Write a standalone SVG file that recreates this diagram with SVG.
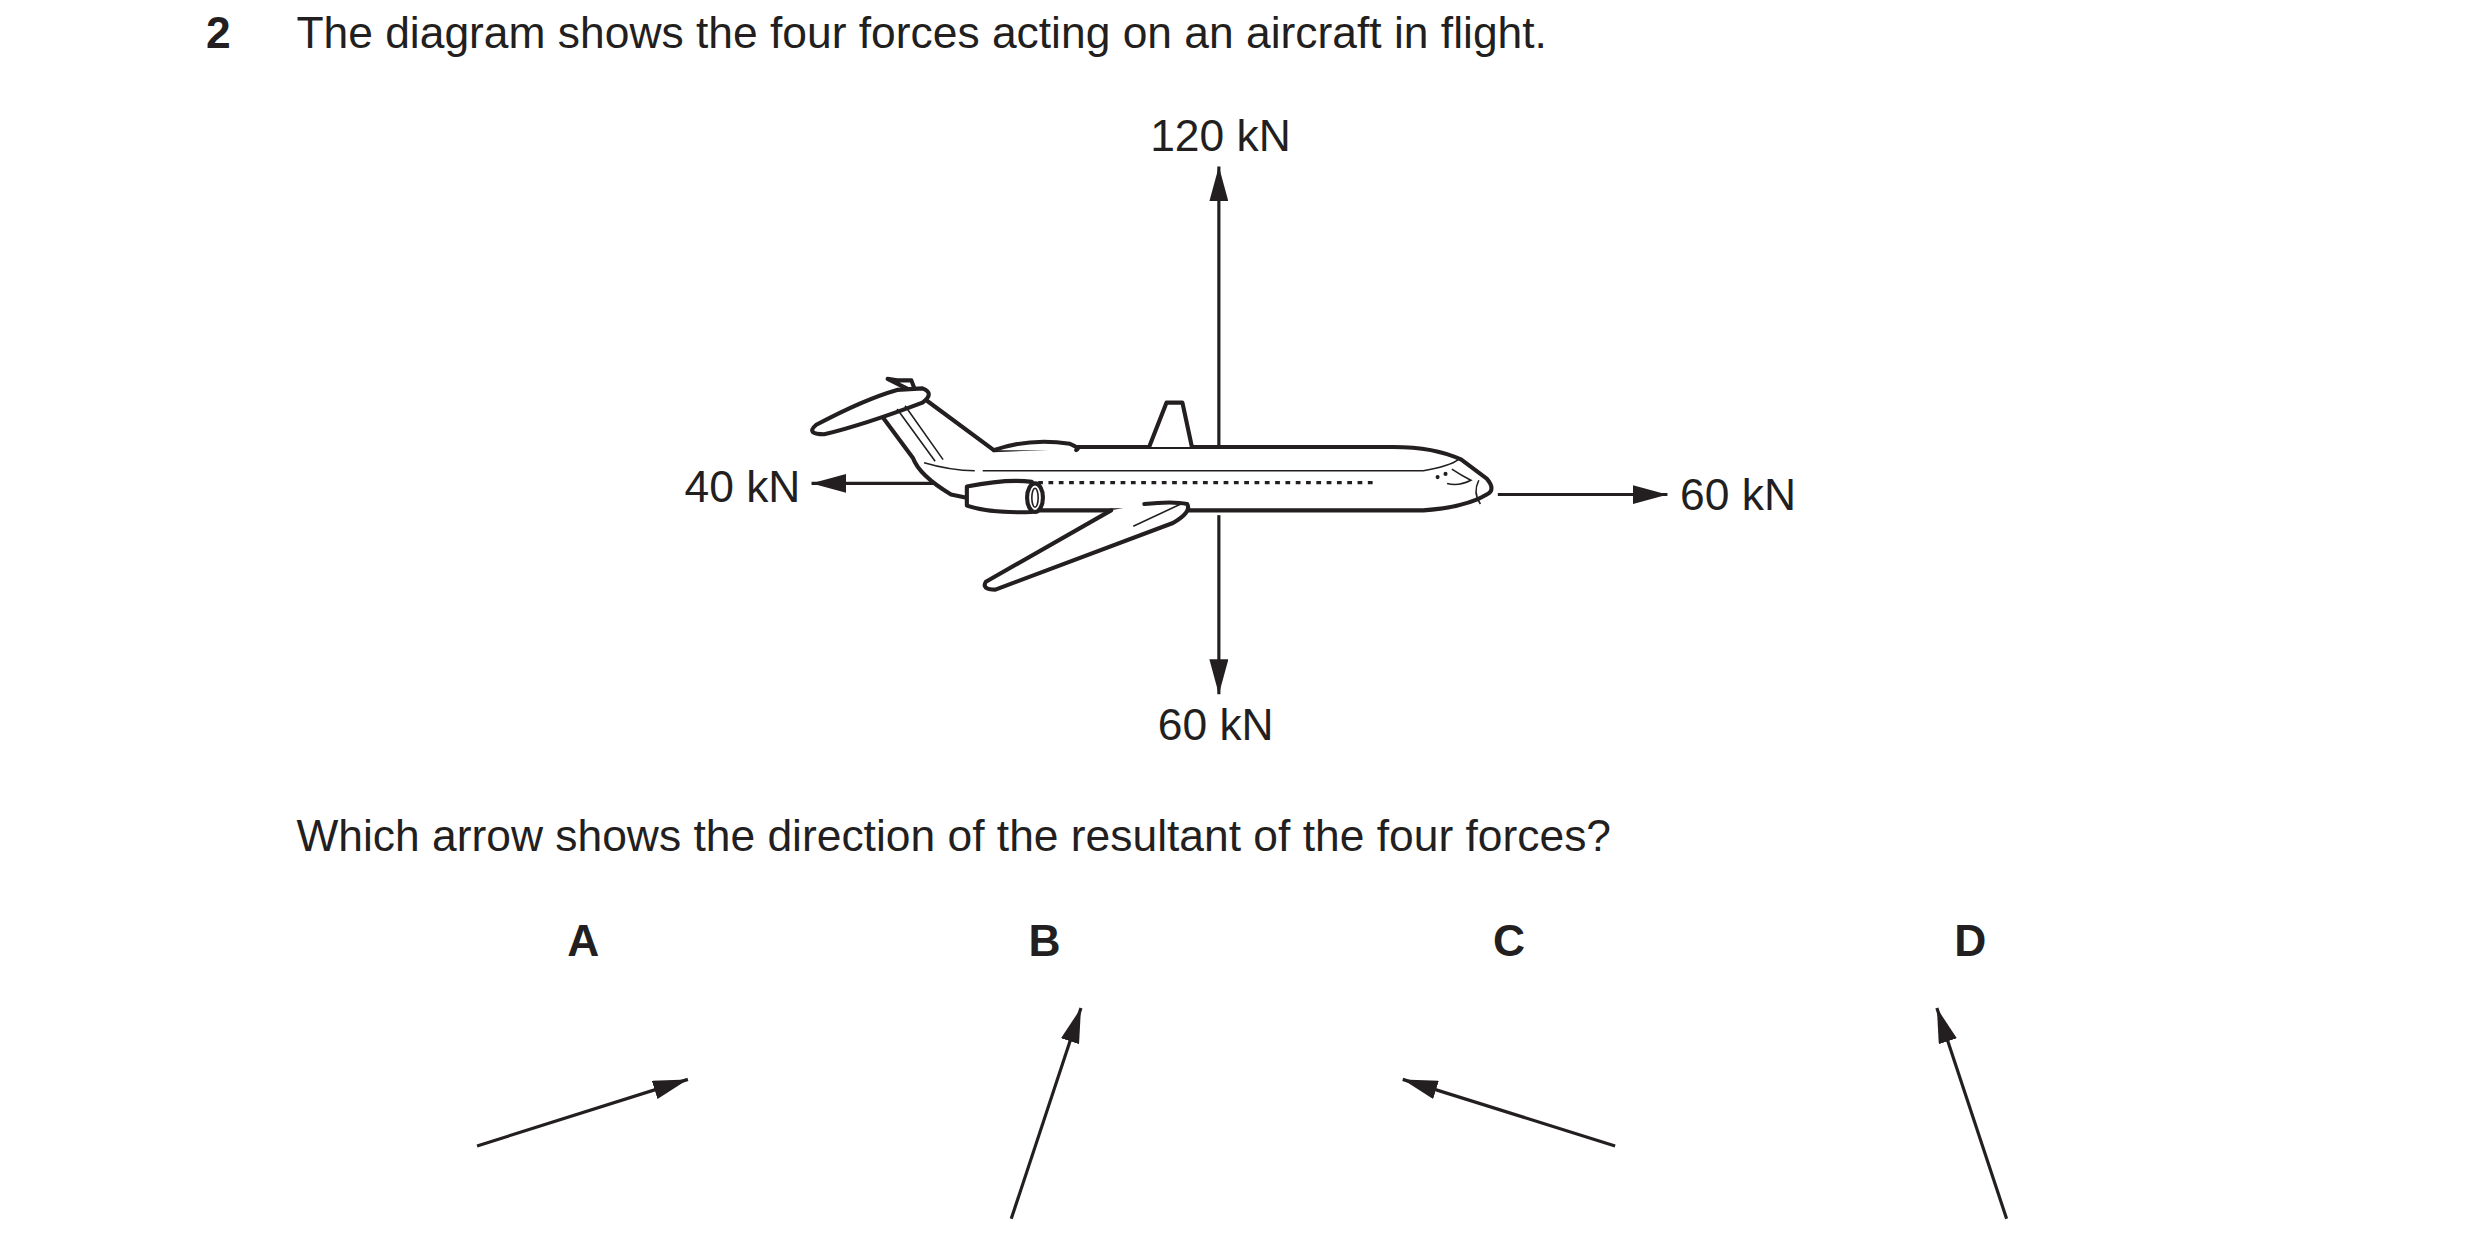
<svg xmlns="http://www.w3.org/2000/svg" width="2480" height="1256" viewBox="0 0 2480 1256">
<style>
text{font-family:"Liberation Sans",Arial,sans-serif;fill:#231f20}
.t{font-size:28px}.b{font-size:28px;font-weight:bold}
.l{stroke:#231f20;stroke-width:2;fill:none}
.p{stroke:#231f20;stroke-width:2.6;fill:#fff;stroke-linejoin:round;stroke-linecap:round}
.thin{stroke:#231f20;stroke-width:1;fill:none}
</style>
<defs>
<marker id="ah" viewBox="0 0 22 12" refX="22" refY="6" markerWidth="22" markerHeight="12" markerUnits="userSpaceOnUse" orient="auto"><path d="M0,0L22,6L0,12z" fill="#231f20"/></marker>
</defs>
<rect width="2480" height="1256" fill="#fff"/>
<g transform="scale(1.585)">
<g id="texts">
<text x="130" y="30" class="b">2</text>
<text x="187" y="30" class="t">The diagram shows the four forces acting on an aircraft in flight.</text>
<text x="770" y="95" class="t" text-anchor="middle">120 kN</text>
<text x="767" y="467" class="t" text-anchor="middle">60 kN</text>
<text x="505" y="317" class="t" text-anchor="end">40 kN</text>
<text x="1060" y="322" class="t">60 kN</text>
<text x="187" y="537" class="t">Which arrow shows the direction of the resultant of the four forces?</text>
<text x="368" y="603" class="b" text-anchor="middle">A</text>
<text x="659" y="603" class="b" text-anchor="middle">B</text>
<text x="952" y="603" class="b" text-anchor="middle">C</text>
<text x="1243" y="603" class="b" text-anchor="middle">D</text>
</g>
<g id="connectors">
<line x1="769" y1="293" x2="769" y2="105" class="l" marker-end="url(#ah)"/>
<line x1="769" y1="325" x2="769" y2="438" class="l" marker-end="url(#ah)"/>
<line x1="592" y1="305" x2="512" y2="305" class="l" marker-end="url(#ah)"/>
<line x1="945" y1="312" x2="1052" y2="312" class="l" marker-end="url(#ah)"/>
<line x1="301" y1="723" x2="434" y2="681" class="l" marker-end="url(#ah)"/>
<line x1="638" y1="769" x2="682" y2="636" class="l" marker-end="url(#ah)"/>
<line x1="1019" y1="723" x2="885" y2="681" class="l" marker-end="url(#ah)"/>
<line x1="1266" y1="769" x2="1222" y2="636" class="l" marker-end="url(#ah)"/>
</g>
<g id="aircraft">
<path class="p" d="M560,239 L566,240 L575,240 L578,248 Z"/>
<path class="p" d="M627,284 L581,250 L556,262 L576,289 Q580,300 600,312 L648,322 L898,322 Q925,320 938,312 Q944,309 938,302 L922,290 Q905,282 879,282 L679,282 Z"/>
<path class="p" d="M566,246 Q545,252 515,268 Q508,274 520,274 Q545,268 582,254 Q590,248 582,245 Z"/>
<path class="thin" d="M566,258 L590,291 M571,256 L595,290"/>
<path class="p" d="M627,284 Q650,276 675,280 Q682,283 679,284"/>
<path class="p" d="M725,282 L736,254 L746,254 L752,282"/>
<path class="thin" d="M583,292 Q600,297 615,297 M620,297 L898,297 Q915,294 920,290"/>
<path class="l" stroke-dasharray="3,3.5" stroke-width="2.2" d="M655,304.5 L867,304.5"/>
<path class="p" d="M701,322 L622,367 Q619,372 628,372 L740,330 Q752,323 749,318 Q740,316 722,318"/>
<path class="thin" d="M715,332 L745,318"/>
<path class="p" d="M610,307 Q635,302 651,304 L651,323 Q625,324 610,319 Z"/>
<ellipse cx="653" cy="314" rx="5" ry="9" class="p"/>
<ellipse cx="653" cy="314" rx="2" ry="6" class="thin"/>
<path class="thin" d="M933,303 Q929,311 934,318"/>
<circle cx="907" cy="301" r="1.3" fill="#231f20"/><circle cx="912" cy="299" r="1.3" fill="#231f20"/>
<path class="thin" d="M913,305 Q920,307 928,303 Q922,300 916,296"/>
</g>
</g>
</svg>
